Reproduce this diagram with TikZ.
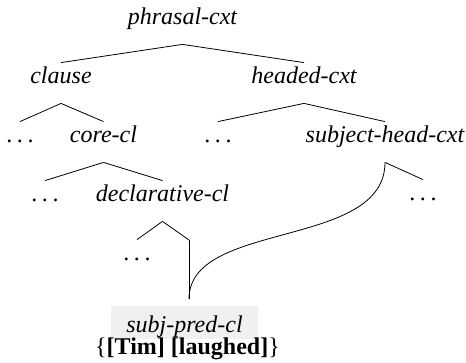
\documentclass[tikz,border=0pt]{standalone}
\usepackage{fontspec}
\setmainfont{Liberation Serif}
\usepackage{tikz}
\tikzstyle{type}=[anchor=base, inner xsep=0pt, inner ysep=3.5pt, text height=7pt, text depth=6pt, font=\fontsize{12}{14}\selectfont\itshape]
\tikzstyle{dots}=[type, font=\fontsize{12}{14}\selectfont]
\tikzstyle{leaf}=[anchor=base, fill=black!6, inner xsep=7.5pt, inner ysep=3pt, text height=10.5pt, text depth=0pt, font=\fontsize{12}{14}\selectfont\itshape]
\tikzstyle{phon}=[anchor=base, inner sep=0pt, font=\fontsize{12}{14}\selectfont]
\newcommand{\spdots}{.\kern2.3pt.\kern2.3pt.}

\begin{document}
\begin{tikzpicture}[x=0.5pt, y=-0.5pt]
	\useasboundingbox (0,0) rectangle (466,363);
		   \begin{scope}
			   \node (phrasal) at (182.5, 25)[type] {phrasal-cxt};
			   \node (clause) at (61, 84)[type] {clause};
			   \node (headed) at (304, 84)[type] {headed-cxt};
			   \node (dotsA) at (20, 143)[dots] {\spdots};
			   \node (core) at (103.5, 143)[type] {core-cl};
			   \node (dotsB) at (218, 143)[dots] {\spdots};
			   \node (subjhead) at (385, 143)[type] {subject-head-cxt};
			   \node (dotsC) at (45, 202)[dots] {\spdots};
			   \node (decl) at (162.5, 202)[type] {declarative-cl};
			   \node (dotsD) at (423, 201)[dots] {\spdots};
			   \node (dotsE) at (137, 261)[dots] {\spdots};
			   \coordinate (spctop) at (189, 240);
			   \coordinate (spcjoin) at (189, 299);
			   \node (subjpred) at (184.5, 333)[leaf] {subj-pred-cl};
			   \node (phon) at (187.5, 355)[phon] {\{\textbf{[Tim] [laughed]}\}};
		   \end{scope}
		   \begin{scope}
			   \path [-] (phrasal.south) edge (clause.north);
			   \path [-] (phrasal.south) edge (headed.north);
			   \path [-] (clause.south) edge (dotsA.north);
			   \path [-] (clause.south) edge (core.north);
			   \path [-] (headed.south) edge (dotsB.north);
			   \path [-] (headed.south) edge (subjhead.north);
			   \path [-] (core.south) edge (dotsC.north);
			   \path [-] (core.south) edge (decl.north);
			   \path [-] (subjhead.south) edge (dotsD.north);
			   \path [-] (decl.south) edge (dotsE.north);
			   \path [-] (decl.south) edge (spctop);
			   \path [-] (spctop) edge (spcjoin);
			   \draw (subjhead.south) .. controls +(0, 87) and +(0, -79) .. (spcjoin);
		   \end{scope}
\end{tikzpicture}
\end{document}
